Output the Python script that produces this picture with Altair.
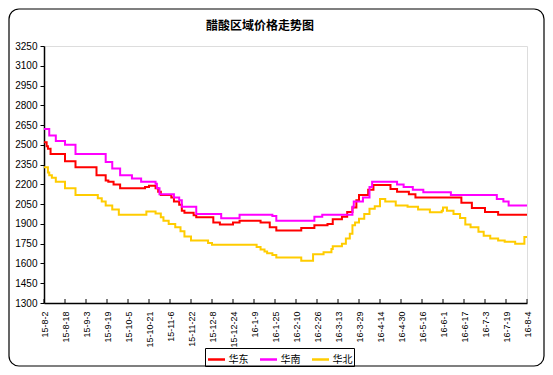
import json
import altair as alt
import pandas as pd

start = pd.Timestamp("2015-08-02")

chart_title = "醋酸区域价格走势图"
x_tick_labels = ["15-8-2", "15-8-18", "15-9-3", "15-9-19", "15-10-5", "15-10-21",
                 "15-11-6", "15-11-22", "15-12-8", "15-12-24", "16-1-9", "16-1-25",
                 "16-2-10", "16-2-26", "16-3-13", "16-3-29", "16-4-14", "16-4-30",
                 "16-5-16", "16-6-1", "16-6-17", "16-7-3", "16-7-19", "16-8-4"]
y_ticks = list(range(1300, 3251, 150))

series_names = ["华东", "华南", "华北"]
series_colors = ["#FF0000", "#FF00FF", "#FFCC00"]

east_dates = ["2015-08-02", "2015-08-04", "2015-08-05", "2015-08-07", "2015-08-18", "2015-08-26",
              "2015-09-11", "2015-09-18", "2015-09-20", "2015-09-24", "2015-09-29", "2015-10-18",
              "2015-10-21", "2015-10-26", "2015-10-28", "2015-10-30", "2015-11-07", "2015-11-09",
              "2015-11-13", "2015-11-15", "2015-11-17", "2015-11-24", "2015-11-26", "2015-12-09",
              "2015-12-14", "2015-12-24", "2015-12-29", "2016-01-14", "2016-01-21", "2016-01-26",
              "2016-02-14", "2016-02-24", "2016-03-05", "2016-03-09", "2016-03-16", "2016-03-20",
              "2016-03-24", "2016-03-27", "2016-03-29", "2016-04-05", "2016-04-09", "2016-04-22",
              "2016-04-27", "2016-05-06", "2016-05-11", "2016-06-15", "2016-06-23", "2016-07-03",
              "2016-07-13", "2016-08-04"]
east_values = [2520, 2490, 2470, 2430, 2375, 2330,
               2270, 2230, 2220, 2200, 2170, 2180,
               2190, 2170, 2145, 2120, 2100, 2070,
               2045, 2000, 1985, 1965, 1950, 1910,
               1895, 1910, 1925, 1910, 1875, 1850,
               1870, 1890, 1900, 1935, 1955, 1990,
               2025, 2080, 2120, 2160, 2195, 2165,
               2145, 2125, 2100, 2060, 2020, 1990,
               1970, 1970]

south_dates = ["2015-08-02", "2015-08-06", "2015-08-11", "2015-08-18", "2015-08-26", "2015-09-18",
               "2015-09-23", "2015-09-29", "2015-10-08", "2015-10-15", "2015-10-26", "2015-10-27",
               "2015-10-29", "2015-11-09", "2015-11-13", "2015-11-15", "2015-11-26", "2015-12-15",
               "2015-12-29", "2016-01-23", "2016-01-26", "2016-02-24", "2016-03-01", "2016-03-24",
               "2016-03-25", "2016-04-01", "2016-04-06", "2016-04-08", "2016-04-27", "2016-05-02",
               "2016-05-09", "2016-05-17", "2016-06-07", "2016-07-12", "2016-07-17", "2016-07-21",
               "2016-08-04"]
south_values = [2620, 2570, 2530, 2500, 2430, 2370,
                2320, 2270, 2245, 2220, 2205, 2170,
                2125, 2100, 2080, 2030, 1975, 1943,
                1970, 1960, 1925, 1955, 1970, 2030,
                2070, 2100, 2180, 2220, 2200, 2180,
                2160, 2140, 2120, 2090, 2070, 2040,
                2040]

north_dates = ["2015-08-02", "2015-08-05", "2015-08-06", "2015-08-08", "2015-08-11", "2015-08-18",
               "2015-08-26", "2015-09-12", "2015-09-15", "2015-09-18", "2015-09-23", "2015-09-28",
               "2015-10-19", "2015-10-26", "2015-10-30", "2015-11-01", "2015-11-05", "2015-11-10",
               "2015-11-14", "2015-11-17", "2015-11-22", "2015-12-05", "2015-12-08", "2016-01-11",
               "2016-01-14", "2016-01-17", "2016-01-19", "2016-01-23", "2016-01-26", "2016-02-14",
               "2016-02-23", "2016-03-02", "2016-03-08", "2016-03-09", "2016-03-16", "2016-03-19",
               "2016-03-22", "2016-03-24", "2016-03-26", "2016-03-29", "2016-04-02", "2016-04-06",
               "2016-04-10", "2016-04-14", "2016-04-18", "2016-04-26", "2016-05-05", "2016-05-13",
               "2016-05-22", "2016-05-31", "2016-06-01", "2016-06-04", "2016-06-09", "2016-06-14",
               "2016-06-18", "2016-06-22", "2016-06-28", "2016-07-02", "2016-07-07", "2016-07-13",
               "2016-07-18", "2016-07-26", "2016-08-02", "2016-08-04"]
north_values = [2330, 2290, 2270, 2250, 2220, 2170,
                2120, 2095, 2070, 2040, 2010, 1970,
                1995, 1980, 1950, 1925, 1900, 1875,
                1845, 1805, 1775, 1755, 1742, 1725,
                1705, 1690, 1677, 1665, 1645, 1620,
                1670, 1685, 1710, 1730, 1750, 1790,
                1825, 1890, 1910, 1940, 1975, 2015,
                2035, 2090, 2070, 2040, 2030, 2010,
                1988, 2000, 2025, 2000, 1975, 1945,
                1895, 1875, 1840, 1810, 1790, 1775,
                1765, 1750, 1800, 1800]

rows = []
for name, dates, vals in [("华东", east_dates, east_values),
                          ("华南", south_dates, south_values),
                          ("华北", north_dates, north_values)]:
    for d, v in zip(dates, vals):
        rows.append({"series": name, "day": (pd.Timestamp(d) - start).days, "value": v,
                     "order": series_names.index(name)})
df = pd.DataFrame(rows)

tick_days = [i * 16 for i in range(len(x_tick_labels))]
ticks_df = pd.DataFrame({"day": tick_days})
one_df = pd.DataFrame({"k": [0]})

label_expr = json.dumps(x_tick_labels, ensure_ascii=False) + "[round(datum.value / 16)]"

x_scale = alt.Scale(domain=[0, 368], nice=False, zero=False)
y_scale = alt.Scale(domain=[1300, 3250], nice=False, zero=False)

x_axis = alt.Axis(values=tick_days, labelExpr=label_expr, labelAngle=270,
                  ticks=False, labelPadding=8, labelFontSize=9,
                  labelFont="Liberation Sans", labelColor="black",
                  domainColor="black", domainWidth=1.5, grid=False, title=None,
                  labelOverlap=False, labelBound=False, labelFlush=False)

lines = alt.Chart(df).mark_line(strokeWidth=2, interpolate="step-after").encode(
    x=alt.X("day:Q", scale=x_scale, axis=x_axis),
    y=alt.Y("value:Q", scale=y_scale,
            axis=alt.Axis(values=y_ticks, format="d", tickSize=4, tickColor="black",
                          labelPadding=3, labelFontSize=10, labelFont="Liberation Sans",
                          labelColor="black", domainColor="black", domainWidth=1.5,
                          grid=False, title=None, labelOverlap=False, labelFlush=False)),
    color=alt.Color("series:N",
                    scale=alt.Scale(domain=series_names, range=series_colors),
                    legend=alt.Legend(title=None, orient="none", legendX=161, legendY=302,
                                      direction="horizontal", symbolType="stroke",
                                      symbolSize=289, symbolStrokeWidth=2.5,
                                      strokeColor="black", padding=1.5, columnPadding=6,
                                      labelFontSize=10, labelFont="Noto Sans CJK SC",
                                      labelColor="black", labelOffset=2)),
    order=alt.Order("order:Q"),
    detail="series:N",
)

xticks = alt.Chart(ticks_df).mark_rule(color="black", strokeWidth=1).encode(
    x=alt.X("day:Q", scale=x_scale, axis=x_axis),
    y=alt.value(253),
    y2=alt.value(257),
)

frame = alt.Chart(one_df).mark_rect(fill=None, stroke="black", strokeWidth=1.2,
                                    cornerRadius=10).encode(
    x=alt.value(-35), x2=alt.value(500), y=alt.value(-37), y2=alt.value(320)
)

title = alt.Chart(one_df).mark_text(text=chart_title, fontSize=12, fontWeight="bold",
                                    font="Noto Sans CJK SC", color="black",
                                    align="center", baseline="middle").encode(
    x=alt.value(216), y=alt.value(-20)
)

chart = alt.layer(frame, title, xticks, lines).properties(
    width=483, height=257,
    autosize=alt.AutoSizeParams(type="none"),
    padding={"left": 36, "top": 38, "right": 18, "bottom": 64},
).configure_view(stroke="#808080", strokeWidth=1).configure(background="white")

chart.save("out.html", embed_options={"renderer": "svg", "actions": False})
